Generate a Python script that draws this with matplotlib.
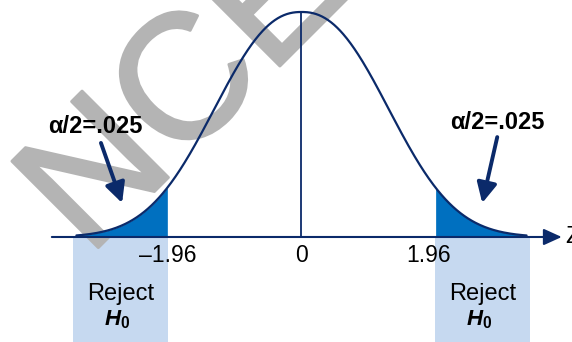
import numpy as np
import matplotlib
matplotlib.use("Agg")
import matplotlib.pyplot as plt
import matplotlib.patheffects as pe
from matplotlib.patches import Rectangle

plt.rcParams["font.family"] = ["Liberation Sans", "DejaVu Sans"]
plt.rcParams["mathtext.fontset"] = "custom"
plt.rcParams["mathtext.rm"] = "Liberation Sans"
plt.rcParams["mathtext.it"] = "Liberation Sans:bold:italic"
plt.rcParams["mathtext.bf"] = "Liberation Sans:bold"

# --- values -----------------------------------------------------------
critical_values = [-1.96, 1.96]
tick_values = [-1.96, 0.0, 1.96]
tick_labels = ["\u20131.96", "0", "1.96"]
tail_label = "\u03b1/2=.025"
reject_label = "Reject"
h0_label = r"$H_\mathbf{0}$"
axis_name = "Z"
curve_extent = 3.3          # curve drawn over [-3.3, 3.3]
reject_extent = 3.35        # outer edge of the rejection boxes
watermark = "NCERT"

# bell shape (flattened normal-like density, peak scaled to 1)
bell_scale = 1.64
bell_power = 2.3

# --- colours ----------------------------------------------------------
NAVY = "#0B2A6A"
TAIL_BLUE = "#0070C0"
BOX_BLUE = "#C6D9F0"
MARK_GREY = "#B4B4B4"

W, H = 572, 342
fig = plt.figure(figsize=(W / 100, H / 100), dpi=100)
ax = fig.add_axes([0, 0, 1, 1])
x0, x1 = -4.42, 3.966
y0, y1 = -0.4667, 1.0533
ax.set_xlim(x0, x1)
ax.set_ylim(y0, y1)
ax.axis("off")

z = np.linspace(-curve_extent, curve_extent, 600)
dens = np.exp(-(np.abs(z) / bell_scale) ** bell_power)

# rejection boxes below the axis
for c in critical_values:
    s = np.sign(c)
    left = min(c, s * reject_extent)
    ax.add_patch(Rectangle((left, y0 - 0.1), abs(s * reject_extent - c), -y0 + 0.1,
                           facecolor=BOX_BLUE, edgecolor="none", zorder=1))

# faint diagonal watermark, kept behind the curve and labels
ax.text(88 / W, 1 - 258 / H, watermark, transform=fig.transFigure,
        rotation=45, rotation_mode="anchor", ha="left", va="baseline",
        fontsize=128, color=MARK_GREY, zorder=2, clip_on=False,
        path_effects=[pe.withStroke(linewidth=2, foreground=MARK_GREY)])

# shaded tails
left_tail = z <= critical_values[0]
right_tail = z >= critical_values[1]
ax.fill_between(z[left_tail], 0, dens[left_tail], color=TAIL_BLUE, lw=0, zorder=3)
ax.fill_between(z[right_tail], 0, dens[right_tail], color=TAIL_BLUE, lw=0, zorder=3)

# horizontal axis with arrow
ax.annotate("", xy=(3.815, 0), xytext=(-3.66, 0),
            arrowprops=dict(arrowstyle="-|>,head_length=1.1,head_width=0.5",
                            color=NAVY, lw=1.5, mutation_scale=10,
                            shrinkA=0, shrinkB=0), zorder=4)
ax.text(3.864, 0, axis_name, fontsize=17, ha="left", va="center", color="black")

# centre line and curve
ax.plot([0, 0], [0, dens.max()], color=NAVY, lw=1.3, zorder=4)
ax.plot(z, dens, color=NAVY, lw=1.6, zorder=5, solid_capstyle="round")

# tick labels
tick_dx = [0, 0, -5]
for v, lab, dx in zip(tick_values, tick_labels, tick_dx):
    ax.annotate(lab, xy=(v, -0.082), xytext=(dx, 0), textcoords="offset points",
                fontsize=16.5, ha="center", va="center", color="black", zorder=6)

# tail annotations with arrows
label_pos = [(-3.02, 0.493), (2.87, 0.511)]
arrow_tail = [(-2.94, 0.418), (2.87, 0.444)]
arrow_tip = [(-2.63, 0.151), (2.65, 0.151)]
for lp, at, ah in zip(label_pos, arrow_tail, arrow_tip):
    ax.text(lp[0], lp[1], tail_label, fontsize=17, fontweight="bold",
            ha="center", va="center", color="black", zorder=6)
    ax.annotate("", xy=ah, xytext=at,
                arrowprops=dict(arrowstyle="-|>,head_length=1.2,head_width=0.6",
                                color=NAVY, lw=2.8, mutation_scale=10,
                                shrinkA=0, shrinkB=0), zorder=6)

# reject labels
for c in critical_values:
    s = np.sign(c)
    cx = (c + s * reject_extent) / 2
    ax.text(cx, -0.255, reject_label, fontsize=17, ha="center", va="center",
            color="black", zorder=6)
    ax.text(cx - 0.05, -0.394, h0_label, fontsize=16, ha="center", va="baseline",
            color="black", zorder=6)

fig.savefig("out.png", dpi=100)
